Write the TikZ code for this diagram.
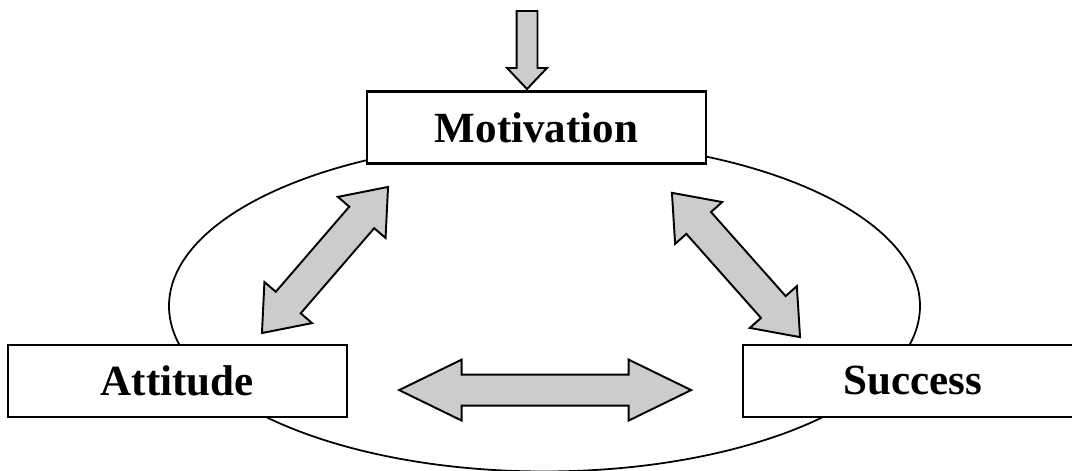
\documentclass[tikz,border=0pt]{standalone}
\usepackage{fontspec}
\setmainfont{Liberation Serif}
\usetikzlibrary{shapes,arrows,calc,positioning}

\begin{document}
\begin{tikzpicture}[
    box/.style={rectangle, draw, line width=1.2pt, fill=white, minimum width=6.78cm, minimum height=1.44cm, font=\bfseries\fontsize{24.5}{29}\selectfont},
    link/.style={double arrow, draw, line width=1.1pt, fill=gray!40, inner xsep=0pt, minimum width=0pt, double arrow head indent=0pt},
    flat/.style={link, minimum height=5.84cm, inner ysep=0.29cm, double arrow head extend=0.3cm, double arrow tip angle=52},
    slant/.style={link, minimum height=3.86cm, inner ysep=0.31cm, double arrow head extend=0.3cm, double arrow tip angle=76},
    feed/.style={single arrow, draw, line width=1.1pt, fill=gray!40, inner xsep=0pt, inner ysep=0.19cm, minimum width=0pt, single arrow head indent=0pt, minimum height=1.56cm, single arrow head extend=0.19cm, single arrow tip angle=87}
    ]
    \useasboundingbox (0,0) rectangle (21.44,9.42);
    % Ring behind the boxes
    \draw[line width=1pt] (10.89,3.30) ellipse (7.51cm and 3.31cm);
    % Boxes
    \node[box] (mot) at (10.73,6.87) {Motivation};
    \node[box, below left=3.58cm and 0.36cm of mot] (att) {Attitude};
    \node[box, below right=3.58cm and 0.70cm of mot] (suc) {Success};
    % Input arrow
    \node[feed, rotate=-90, anchor=tip] (in) at ([xshift=-0.19cm]mot.north) {};
    % Two-way arrows
    \node[flat, right=0.98cm of att, yshift=-0.19cm] (as) {};
    \node[slant, rotate=49.2] (am) at (6.50,4.22) {};
    \node[slant, rotate=-48.4] (ms) at (14.72,4.12) {};
\end{tikzpicture}
\end{document}
